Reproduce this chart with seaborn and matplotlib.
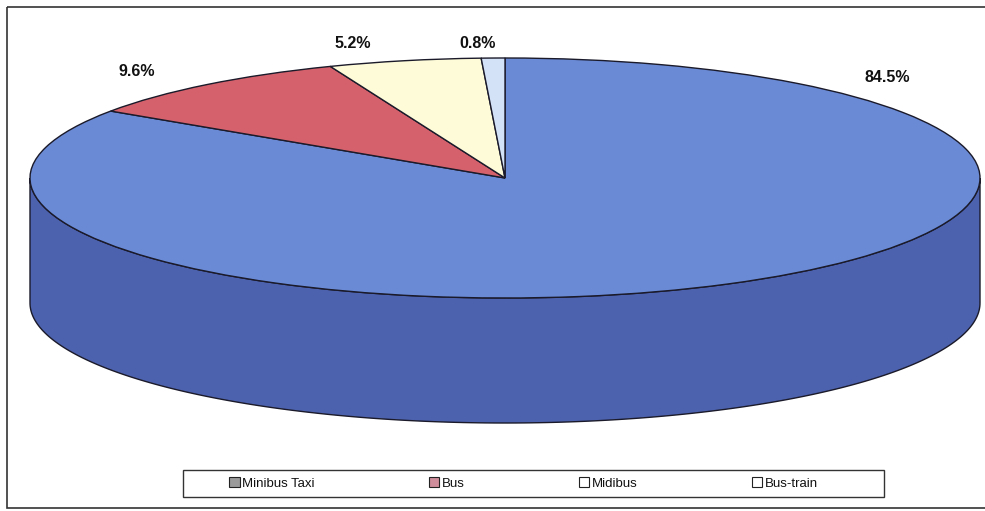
import numpy as np
import matplotlib
matplotlib.use("Agg")
import matplotlib.pyplot as plt
from matplotlib.patches import Polygon, Rectangle, Patch
import seaborn as sns

# Share of trips by public transport mode
modes = ["Minibus Taxi", "Bus", "Midibus", "Bus-train"]
shares = [84.5, 9.6, 5.2, 0.8]
share_labels = ["84.5%", "9.6%", "5.2%", "0.8%"]

top_colors = ["#6a8ad6", "#d4616b", "#fdfbd8", "#d4e2f8"]
side_colors = ["#4d62ae", "#a8434d", "#d8d3a8", "#a9b8d0"]
legend_colors = ["#9a9a9a", "#cf8c9a", "#ffffff", "#ffffff"]

sns.set_theme(style="white")
plt.rcParams["font.family"] = ["Liberation Sans", "DejaVu Sans"]

W, H = 985, 511
fig = plt.figure(figsize=(W / 100, H / 100), dpi=100)
fig.patch.set_facecolor("white")

# Pixel-based overlay for frame, labels and legend box
ov = fig.add_axes([0, 0, 1, 1])
ov.set_xlim(0, W)
ov.set_ylim(H, 0)
ov.axis("off")

# Pie axes: unit circle squashed into an ellipse (tilted 3D look)
cx, cy, rx, ry, depth = 505, 178, 475, 120, 125
ax = fig.add_axes([0, 0, 1, 1])
ax.patch.set_alpha(0)

wedges, _ = ax.pie(shares, colors=top_colors, startangle=90, counterclock=False,
                   radius=1.0, center=(0, 0),
                   wedgeprops=dict(edgecolor="#1a1a2a", linewidth=1.0, zorder=3))
ax.set_aspect("auto")
ax.set_xlim(-cx / rx, (W - cx) / rx)
ax.set_ylim(-(H - cy) / ry, cy / ry)
ax.axis("off")

d = depth / ry
# Side wall: visible where the rim faces the viewer (lower half of the ellipse)
for w, sc in zip(wedges, side_colors):
    t1, t2 = w.theta1, w.theta2
    for k in (-360, 0, 360):
        a, b = max(t1, 180 + k), min(t2, 360 + k)
        if b > a:
            th = np.radians(np.linspace(a, b, 200))
            top = np.column_stack([np.cos(th), np.sin(th)])
            bot = np.column_stack([np.cos(th[::-1]), np.sin(th[::-1]) - d])
            ax.add_patch(Polygon(np.vstack([top, bot]), closed=True,
                                 facecolor=sc, edgecolor="#1a1a2a",
                                 linewidth=1.0, zorder=2))

# Outer chart frame
ov.add_patch(Rectangle((7, 7), 990, 501, fill=False, edgecolor="#333333",
                       linewidth=1.2))

# Percentage labels
label_pos = [(887, 78), (137, 72), (353, 44), (478, 44)]
for (x, y), txt in zip(label_pos, share_labels):
    ov.text(x, y, txt, ha="center", va="center", fontsize=11.5,
            fontweight="bold", color="#111111")

# Legend box and entries
ov.add_patch(Rectangle((183, 470), 701, 27, fill=False, edgecolor="#333333",
                       linewidth=1.0))
handles = [Patch(facecolor=c, edgecolor="#222222", linewidth=0.8)
           for c in legend_colors]
leg = fig.legend(handles, modes, loc="center",
                 bbox_to_anchor=(225 / W, 1 - 497 / H, (822 - 225) / W, 27 / H),
                 mode="expand", ncol=4, frameon=False,
                 fontsize=9.5, handlelength=0.8, handleheight=0.8,
                 handletextpad=0.2, borderpad=0.3, borderaxespad=0)
for t in leg.get_texts():
    t.set_color("#111111")

fig.savefig("out.png", dpi=100, facecolor="white")
